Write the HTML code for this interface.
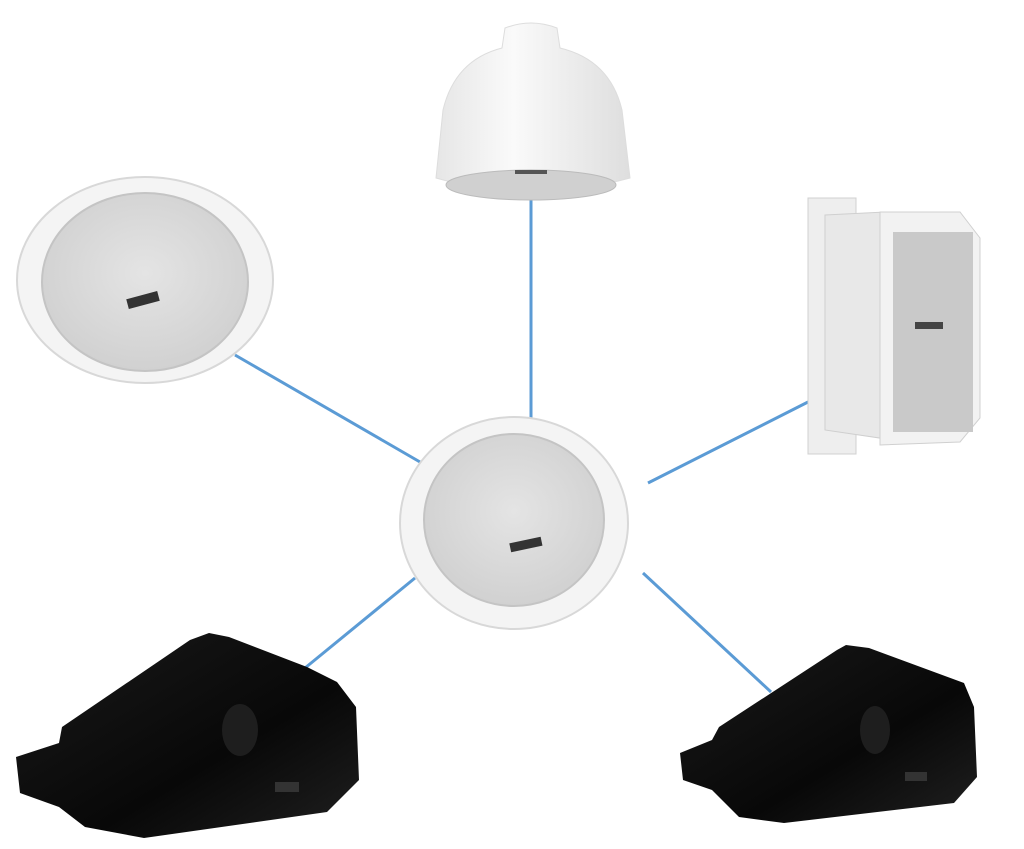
<!DOCTYPE html>
<html><head><meta charset="utf-8"><style>
html,body{margin:0;padding:0;background:#fff;}
svg{display:block}
</style></head><body>
<svg width="1024" height="849" viewBox="0 0 1024 849" xmlns="http://www.w3.org/2000/svg">
<defs>
<radialGradient id="grille" cx="50%" cy="45%" r="60%">
<stop offset="0" stop-color="#e4e4e4"/><stop offset="1" stop-color="#cfcfcf"/></radialGradient>
<linearGradient id="dome" x1="0" y1="0" x2="1" y2="0">
<stop offset="0" stop-color="#e6e6e6"/><stop offset="0.4" stop-color="#fafafa"/><stop offset="1" stop-color="#dedede"/></linearGradient>
<linearGradient id="blk" x1="0" y1="0" x2="1" y2="1">
<stop offset="0" stop-color="#1a1a1a"/><stop offset="0.6" stop-color="#080808"/><stop offset="1" stop-color="#202020"/></linearGradient>
</defs>
<!-- lines -->
<g stroke="#5b9bd5" stroke-width="3" fill="none">
<line x1="531" y1="198" x2="531" y2="420"/>
<line x1="235" y1="355" x2="420" y2="462"/>
<line x1="808" y1="402" x2="648" y2="483"/>
<line x1="415" y1="578" x2="305" y2="668"/>
<line x1="643" y1="573" x2="771" y2="692"/>
</g>
<!-- top-left ceiling speaker -->
<ellipse cx="145" cy="280" rx="128" ry="103" fill="#f4f4f4" stroke="#d8d8d8" stroke-width="2"/>
<ellipse cx="145" cy="282" rx="103" ry="89" fill="url(#grille)" stroke="#c4c4c4" stroke-width="2"/>
<rect x="127" y="295" width="32" height="10" fill="#333" transform="rotate(-15 143 300)"/>
<!-- center speaker -->
<ellipse cx="514" cy="523" rx="114" ry="106" fill="#f4f4f4" stroke="#d8d8d8" stroke-width="2"/>
<ellipse cx="514" cy="520" rx="90" ry="86" fill="url(#grille)" stroke="#c4c4c4" stroke-width="2"/>
<rect x="510" y="540" width="32" height="9" fill="#333" transform="rotate(-12 526 545)"/>
<!-- pendant -->
<path d="M505 28 Q531 18 557 28 L560 48 Q610 60 622 110 L630 178 Q531 205 436 178 L443 110 Q455 60 502 48 Z" fill="url(#dome)" stroke="#ddd"/>
<ellipse cx="531" cy="185" rx="85" ry="15" fill="#d0d0d0" stroke="#bbb"/>
<rect x="515" y="170" width="32" height="4" fill="#555"/>
<!-- wall speaker -->
<rect x="808" y="198" width="48" height="256" fill="#eeeeee" stroke="#d0d0d0"/>
<path d="M825 215 L885 212 L893 440 L825 430 Z" fill="#e8e8e8" stroke="#cfcfcf"/>
<path d="M880 212 L960 212 L980 238 L980 418 L960 442 L880 445 Z" fill="#f2f2f2" stroke="#d0d0d0"/>
<rect x="893" y="232" width="80" height="200" fill="#c9c9c9"/>
<rect x="915" y="322" width="28" height="7" fill="#444"/>
<!-- bottom-left black speaker -->
<polygon points="209,633 229,637 307,667 337,682 356,707 359,780 327,812 144,838 85,827 59,807 20,793 16,757 59,743 62,727 190,640" fill="url(#blk)"/>
<ellipse cx="240" cy="730" rx="18" ry="26" fill="#1e1e1e"/>
<rect x="275" y="782" width="24" height="10" fill="#333"/>
<!-- bottom-right black speaker -->
<polygon points="846,645 869,648 964,683 974,707 977,777 954,803 784,823 739,817 712,790 683,780 680,753 712,740 719,727 837,650" fill="url(#blk)"/>
<ellipse cx="875" cy="730" rx="15" ry="24" fill="#1e1e1e"/>
<rect x="905" y="772" width="22" height="9" fill="#333"/>
</svg>
</body></html>
